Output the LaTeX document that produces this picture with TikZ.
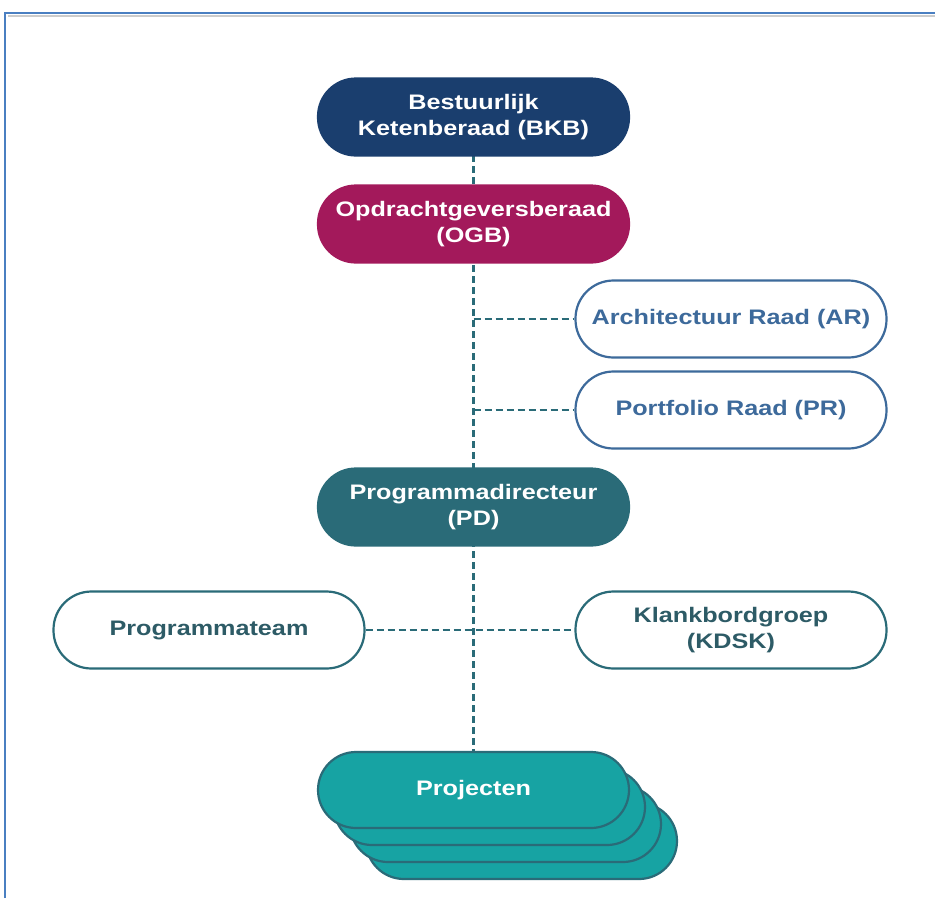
\documentclass[tikz,border=0pt]{standalone}
\usepackage{fontspec}
\setmainfont{Liberation Sans}
\newfontfamily\lblfont[FakeStretch=1.2]{Liberation Sans}
\usetikzlibrary{calc}
\definecolor{navy}{HTML}{1A3E6E}
\definecolor{magenta}{HTML}{A3195B}
\definecolor{pdteal}{HTML}{2A6B78}
\definecolor{projteal}{HTML}{17A3A3}
\definecolor{bluetxt}{HTML}{3D6A9B}
\definecolor{tealtxt}{HTML}{2D5B66}
\definecolor{framebl}{HTML}{4A7FC1}
\tikzset{
  pill/.style={rounded corners=38pt, minimum width=311pt, minimum height=77pt, align=center,
    font=\lblfont\fontsize{21}{26.5}\selectfont\bfseries, inner sep=0pt, line width=2.2pt},
  solidpill/.style={pill, text=white},
  outpill/.style={pill, fill=white},
  conn/.style={pdteal, dash pattern=on 7pt off 4pt, line width=2.6pt}
}
\begin{document}
\begin{tikzpicture}[x=1pt,y=-1pt]
\useasboundingbox (0,0) rectangle (935,898);
\fill[white] (0,0) rectangle (935,898);
% frame
\draw[black!20, line width=1.5pt] (8,16) -- (935,16);
\draw[framebl, line width=1.6pt] (5,898) -- (5,13) -- (935,13);

% named anchors for the spine
\coordinate (top) at (473.5,155);
\coordinate (bot) at (473.5,752);
\coordinate (jar) at (473.5,319);
\coordinate (jpr) at (473.5,410);
\draw[conn] (top) -- (bot);

% projecten stack (back layers)
\foreach \k in {3,2,1}{
  \draw[rounded corners=38pt, fill=projteal, draw=pdteal, line width=2.2pt]
    ($(318,752)+(16*\k,17*\k)$) rectangle ++(311,76);
}
\node[solidpill, fill=projteal, draw=pdteal, minimum height=76pt] (proj) at (473.5,790) {Projecten};

\node[solidpill, fill=navy, draw=navy] (bkb) at (473.5,117) {Bestuurlijk\\Ketenberaad (BKB)};
\node[solidpill, fill=magenta, draw=magenta] (ogb) at (473.5,224) {Opdrachtgeversberaad\\(OGB)};
\node[outpill, draw=bluetxt, text=bluetxt] (ar) at (731,319) {Architectuur Raad (AR)};
\node[outpill, draw=bluetxt, text=bluetxt] (pr) at (731,410) {Portfolio Raad (PR)};
\node[solidpill, fill=pdteal, draw=pdteal] (pd) at (473.5,507) {Programmadirecteur\\(PD)};
\node[outpill, draw=pdteal, text=tealtxt] (pt) at (209,630) {Programmateam};
\node[outpill, draw=pdteal, text=tealtxt] (kdsk) at (731,630) {Klankbordgroep\\(KDSK)};

\draw[conn] (jar) -- (ar.west);
\draw[conn] (jpr) -- (pr.west);
\draw[conn] (pt.east) -- (kdsk.west);
\end{tikzpicture}
\end{document}
